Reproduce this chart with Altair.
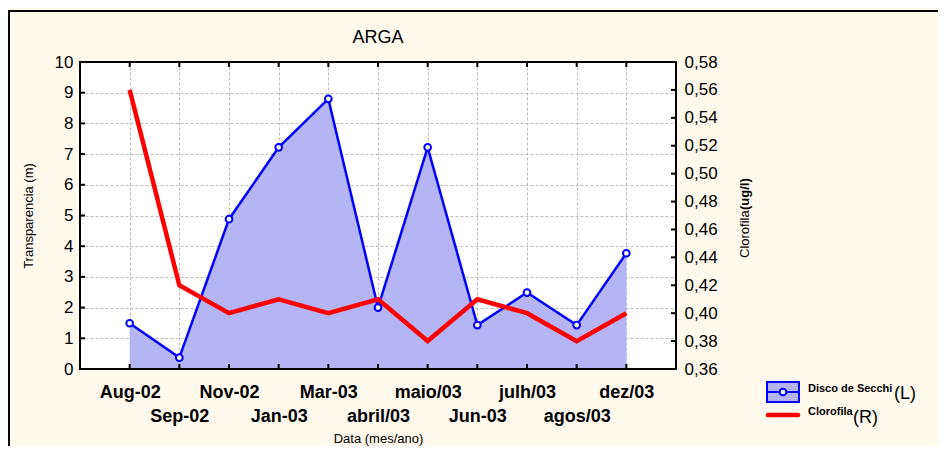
import json
import altair as alt
import pandas as pd

# ---------------- data ----------------
months = ["Aug-02", "Sep-02", "Nov-02", "Jan-03", "Mar-03", "abril/03",
          "maio/03", "Jun-03", "julh/03", "agos/03", "dez/03"]
secchi = [1.49, 0.37, 4.88, 7.22, 8.80, 2.00, 7.22, 1.43, 2.49, 1.43, 3.77]
clorofila = [0.56, 0.42, 0.40, 0.41, 0.40, 0.41, 0.38, 0.41, 0.40, 0.38, 0.40]
left_ticks = [0, 1, 2, 3, 4, 5, 6, 7, 8, 9, 10]
right_ticks = [0.36, 0.38, 0.40, 0.42, 0.44, 0.46, 0.48, 0.50, 0.52, 0.54, 0.56, 0.58]
second_row = months[1::2]

title_text = "ARGA"
x_title = "Data (mes/ano)"
y_left_title = "Transparencia (m)"
y_right_title_a = "Clorofila"
y_right_title_b = "(ug/l)"
legend_secchi = "Disco de Secchi"
legend_secchi_side = "(L)"
legend_cloro = "Clorofila"
legend_cloro_side = "(R)"

# ---------------- style ----------------
FONT = "Liberation Sans"
W, H = 596, 307
BLUE = "#0000FF"
RED = "#FF0000"
AREA = "#B5B5F5"
GRID = "#BDBDBD"

df = pd.DataFrame({"mes": months, "secchi": secchi, "clorofila": clorofila})
one = pd.DataFrame({"k": [0]})
ltick_df = pd.DataFrame({"v": left_ticks[1:-1]})
rtick_df = pd.DataFrame({"v": right_ticks[1:-1]})

xscale = alt.Scale(type="point", padding=1)
left_scale = alt.Scale(domain=[left_ticks[0], left_ticks[-1]], nice=False, zero=False)
right_scale = alt.Scale(domain=[right_ticks[0], right_ticks[-1]], nice=False, zero=False)

label_expr = "indexof(%s, datum.value) >= 0 ? ['', datum.label] : datum.label" % json.dumps(second_row)

x_axis = alt.Axis(
    title=x_title,
    labelExpr=label_expr,
    labelFont=FONT, labelFontSize=18, labelFontWeight="bold", labelColor="black",
    labelPadding=14, labelLineHeight=24, labelAngle=0, labelOverlap=False,
    ticks=False, domain=False,
    grid=True, gridColor=GRID, gridDash=[3, 2], gridWidth=1,
    titleFont=FONT, titleFontSize=13, titleFontWeight="normal", titleColor="black",
    titleX=W / 2, titleY=69, titleAlign="center", titleBaseline="middle",
)


def X():
    return alt.X("mes:N", sort=months, scale=xscale, axis=x_axis)


left_axis = alt.Axis(
    title=y_left_title, values=left_ticks, format="d",
    labelFont=FONT, labelFontSize=17, labelColor="black", labelPadding=7,
    labelOverlap=False, ticks=False, domain=False,
    grid=True, gridColor=GRID, gridDash=[3, 2], gridWidth=1,
    titleFont=FONT, titleFontSize=13, titleFontWeight="normal", titleColor="black",
    titleX=-52, titleY=H / 2, titleAngle=270, titleAlign="center", titleBaseline="middle",
)

right_axis = alt.Axis(
    orient="right", title=None, values=right_ticks,
    labelExpr="replace(format(datum.value, '.2f'), '.', ',')",
    labelFont=FONT, labelFontSize=17, labelColor="black", labelPadding=8,
    labelOverlap=False, ticks=False, domain=False, grid=False,
)

frame = alt.Chart(one).mark_rect(fillOpacity=0, stroke="black", strokeWidth=2).encode(
    x=alt.value(-71), x2=alt.value(W + 400), y=alt.value(-51), y2=alt.value(H + 200))

area = alt.Chart(df).mark_area(color=AREA, opacity=1).encode(
    x=X(), y=alt.Y("secchi:Q", scale=left_scale, axis=left_axis))

blue_line = alt.Chart(df).mark_line(color=BLUE, strokeWidth=2.5).encode(
    x=X(), y=alt.Y("secchi:Q", scale=left_scale, axis=None))

red_line = alt.Chart(df).mark_line(color=RED, strokeWidth=4.5).encode(
    x=X(), y=alt.Y("clorofila:Q", scale=right_scale, axis=right_axis))

points = alt.Chart(df).mark_point(shape="circle", filled=True, fill="white", stroke=BLUE,
                                  strokeWidth=2, size=45, opacity=1).encode(
    x=X(), y=alt.Y("secchi:Q", scale=left_scale, axis=None))

# inward ticks
tick_bottom = alt.Chart(df).mark_rule(color="black", strokeWidth=2).encode(
    x=X(), y=alt.value(H - 5), y2=alt.value(H))
tick_top = alt.Chart(df).mark_rule(color="black", strokeWidth=2).encode(
    x=X(), y=alt.value(0), y2=alt.value(5))
tick_left = alt.Chart(ltick_df).mark_rule(color="black", strokeWidth=2).encode(
    y=alt.Y("v:Q", scale=left_scale, axis=None), x=alt.value(0), x2=alt.value(5))
tick_right = alt.Chart(rtick_df).mark_rule(color="black", strokeWidth=2).encode(
    y=alt.Y("v:Q", scale=right_scale, axis=None), x=alt.value(W - 5), x2=alt.value(W))

border = alt.Chart(one).mark_rect(fillOpacity=0, stroke="black", strokeWidth=2).encode(
    x=alt.value(0), x2=alt.value(W), y=alt.value(0), y2=alt.value(H))

title = alt.Chart(one).mark_text(text=title_text, font=FONT, fontSize=18, color="black",
                                 align="center", baseline="middle").encode(
    x=alt.value(W / 2), y=alt.value(-24))

rt_a = alt.Chart(one).mark_text(text=y_right_title_a, font=FONT, fontSize=13, color="black",
                                angle=270, align="left", baseline="middle").encode(
    x=alt.value(665), y=alt.value(196))
rt_b = alt.Chart(one).mark_text(text=y_right_title_b, font=FONT, fontSize=13, color="black",
                                fontWeight="bold", angle=270, align="left", baseline="middle").encode(
    x=alt.value(665), y=alt.value(148))

# legend
lg_box = alt.Chart(one).mark_rect(fill=AREA, stroke=BLUE, strokeWidth=2).encode(
    x=alt.value(687), x2=alt.value(719), y=alt.value(320), y2=alt.value(340))
lg_bline = alt.Chart(one).mark_rule(color=BLUE, strokeWidth=2).encode(
    x=alt.value(687), x2=alt.value(719), y=alt.value(330))
lg_pt = alt.Chart(one).mark_point(shape="circle", filled=True, fill="white", stroke=BLUE,
                                  strokeWidth=2, size=45, opacity=1).encode(
    x=alt.value(703), y=alt.value(330))
lg_t1 = alt.Chart(one).mark_text(text=legend_secchi, font=FONT, fontSize=11, fontWeight="bold",
                                 color="black", align="left", baseline="alphabetic").encode(
    x=alt.value(728), y=alt.value(330))
lg_t1b = alt.Chart(one).mark_text(text=legend_secchi_side, font=FONT, fontSize=18,
                                  color="black", align="left", baseline="alphabetic").encode(
    x=alt.value(814), y=alt.value(337))
lg_red = alt.Chart(one).mark_rule(color=RED, strokeWidth=4.5, strokeCap="round").encode(
    x=alt.value(688), x2=alt.value(718), y=alt.value(353))
lg_t2 = alt.Chart(one).mark_text(text=legend_cloro, font=FONT, fontSize=11, fontWeight="bold",
                                 color="black", align="left", baseline="alphabetic").encode(
    x=alt.value(728), y=alt.value(353))
lg_t2b = alt.Chart(one).mark_text(text=legend_cloro_side, font=FONT, fontSize=18,
                                  color="black", align="left", baseline="alphabetic").encode(
    x=alt.value(773), y=alt.value(361))

chart = alt.layer(
    frame, area, blue_line, red_line, points,
    tick_bottom, tick_top, tick_left, tick_right, border,
    title, rt_a, rt_b,
    lg_box, lg_bline, lg_pt, lg_t1, lg_t1b, lg_red, lg_t2, lg_t2b,
).resolve_scale(y="independent").properties(
    width=W, height=H,
    padding={"left": 72, "top": 54, "right": 262, "bottom": 77},
    autosize=alt.AutoSizeParams(type="none"),
    background="#FFF9EE",
).configure_view(
    fill="white", stroke=None,
)

chart.save("out.html", embed_options={"renderer": "svg", "actions": False})
